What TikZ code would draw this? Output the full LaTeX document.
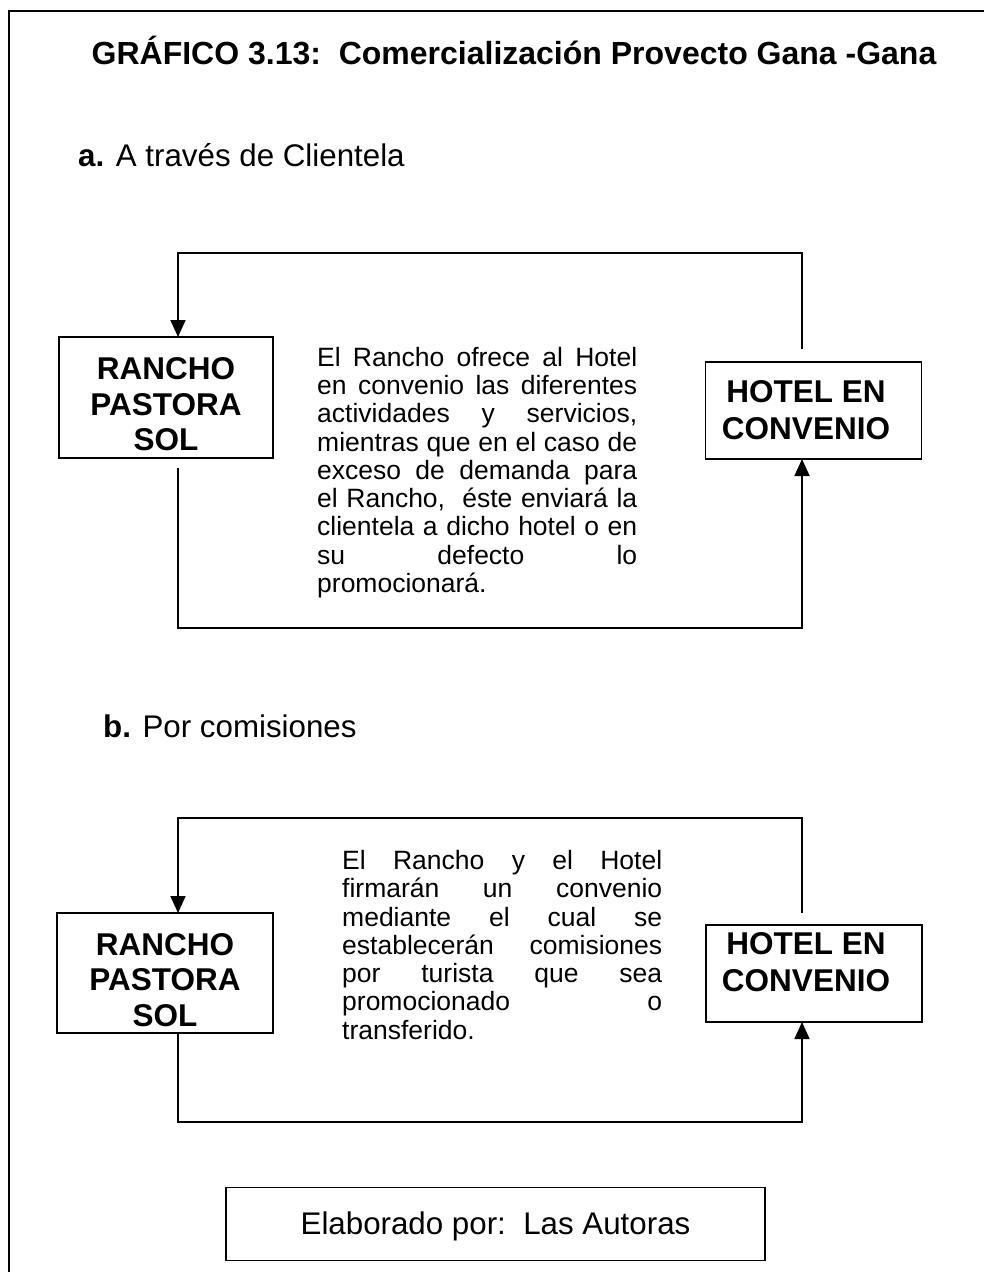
\documentclass[tikz,border=0pt]{standalone}
\usepackage{fontspec}
\setmainfont{Liberation Sans}
\usetikzlibrary{arrows.meta}
\begin{document}
\begin{tikzpicture}[x=1pt,y=-1pt,
  frame/.style={draw, line width=1.8pt, inner sep=0pt, outer sep=0pt},
  conn/.style={line width=1.8pt},
  arr/.style={conn, -{Triangle[width=15pt,length=17pt]}},
  boxlabel/.style={font=\fontsize{31.5}{35.5}\selectfont\bfseries, align=center, inner sep=0pt, anchor=north},
  heading/.style={font=\fontsize{31.3}{36}\selectfont, inner sep=0pt, anchor=base west},
  body/.style={font=\fontsize{26.5}{28.3}\selectfont, text width=320pt, align=justify, inner sep=0pt, anchor=north west}
]
\useasboundingbox (0,0) rectangle (983,1272);
% outer frame (open at right and bottom)
\draw[line width=2pt] (9,1290) -- (9,11) -- (1000,11);

% title and headings
\node[font=\fontsize{32}{36}\selectfont\bfseries, inner sep=0pt, anchor=base] (title) at (514,64) {GRÁFICO 3.13:\ \ Comercialización Provecto Gana -Gana};
\node[heading] (headA) at (78,166) {\textbf{a.} A través de Clientela};
\node[heading] (headB) at (103,737) {\textbf{b.} Por comisiones};

% ---------- section a ----------
\node[frame, minimum width=214pt, minimum height=121pt] (ranchoA) at (166,397.5) {};
\node[boxlabel] (ranchoAtxt) at (166,357.5) {RANCHO\\PASTORA\\SOL};
\node[frame, minimum width=216pt, minimum height=97pt] (hotelA) at (813.5,410.5) {};
\node[boxlabel, font=\fontsize{31.5}{37}\selectfont\bfseries] (hotelAtxt) at (806,380.5) {HOTEL EN\\CONVENIO};
\node[body] (textA) at (317,346.7) {El Rancho ofrece al Hotel\linebreak
en convenio las diferentes\linebreak
actividades y servicios,\linebreak
mientras que en el caso de\linebreak
exceso de demanda para\linebreak
el Rancho,\ \ éste enviará la\linebreak
clientela a dicho hotel o en\linebreak
su defecto lo\linebreak
promocionará.};
\coordinate (aTR) at (802,349);
\coordinate (aBL) at (178,468);
\draw[arr] (aTR) |- (178,253) -- ([xshift=12pt]ranchoA.north);
\draw[arr] (aBL) |- (802,628) -- (hotelA.south -| aTR);

% ---------- section b ----------
\node[frame, minimum width=216pt, minimum height=120pt] (ranchoB) at (165,973) {};
\node[boxlabel] (ranchoBtxt) at (165,933) {RANCHO\\PASTORA\\SOL};
\node[frame, minimum width=216pt, minimum height=97pt] (hotelB) at (814,973.5) {};
\node[boxlabel, font=\fontsize{31.5}{37}\selectfont\bfseries] (hotelBtxt) at (806,932) {HOTEL EN\\CONVENIO};
\node[body] (textB) at (342,850) {El Rancho y el Hotel\linebreak
firmarán un convenio\linebreak
mediante el cual se\linebreak
establecerán comisiones\linebreak
por turista que sea\linebreak
promocionado o\linebreak
transferido.};
\coordinate (bTR) at (802,913);
\draw[arr] (bTR) |- (178,818) -- ([xshift=13pt]ranchoB.north);
\draw[arr] ([xshift=13pt]ranchoB.south) |- (802,1122) -- (hotelB.south -| bTR);

% ---------- footer ----------
\node[frame, minimum width=539pt, minimum height=73pt] (foot) at (495.5,1224) {};
\node[font=\fontsize{31.3}{36}\selectfont, inner sep=0pt, anchor=base] (foottxt) at (foot.center) [yshift=-10pt] {Elaborado por:\ \ Las Autoras};
\end{tikzpicture}
\end{document}
